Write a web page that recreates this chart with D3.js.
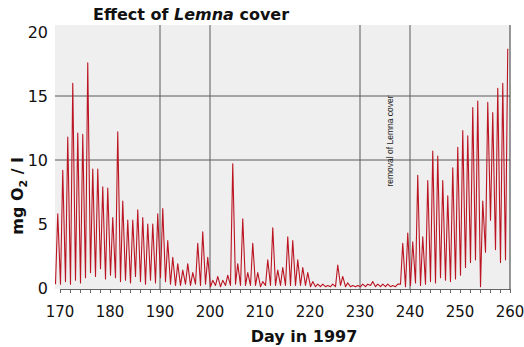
<!DOCTYPE html>
<html>
<head>
<meta charset="utf-8">
<script src="https://cdn.jsdelivr.net/npm/d3@7"></script>
<style>
  body { margin: 0; background: #fff; }
  svg text { font-family: "DejaVu Sans", Verdana, sans-serif; }
</style>
</head>
<body>
<svg id="chart" width="524" height="347"></svg>
<script>
// daily values (mg O2 / l)
let days = d3.range(169, 260);
let dayMax = [5.8, 9.2, 11.8, 16.0, 12.1, 12.0, 17.6, 9.3, 9.3, 7.9,
              7.8, 5.5, 12.2, 6.8, 5.3, 5.3, 6.1, 5.5, 5.0, 5.0,
              5.8, 6.2, 3.7, 2.4, 1.9, 1.4, 1.9, 1.2, 3.5, 4.4,
              2.4, 0.6, 0.9, 0.6, 1.0, 9.7, 1.9, 5.4, 1.2, 3.5,
              1.2, 0.5, 2.2, 4.7, 1.4, 1.6, 4.0, 3.7, 2.2, 1.6,
              1.2, 0.5, 0.3, 0.3, 0.2, 0.3, 1.8, 0.9, 0.4, 0.2,
              0.2, 0.3, 0.3, 0.5, 0.3, 0.3, 0.3, 0.2, 0.3, 3.5,
              4.3, 3.6, 8.8, 4.0, 8.4, 10.7, 10.3, 8.4, 7.2, 9.4,
              11.0, 12.3, 11.9, 14.1, 14.6, 6.8, 14.5, 13.7, 15.6, 16.0,
              18.7];
let dayMin = [0.3, 0.3, 0.5, 0.3, 0.6, 0.4, 0.8, 1.2, 0.9, 1.5,
              0.7, 1.0, 0.8, 0.5, 0.6, 0.4, 0.9, 0.5, 0.3, 0.6,
              0.4, 0.8, 0.5, 0.3, 0.2, 0.2, 0.3, 0.2, 0.3, 0.2,
              0.3, 0.1, 0.2, 0.1, 0.2, 0.2, 0.3, 0.2, 0.2, 0.2,
              0.2, 0.1, 0.2, 0.2, 0.2, 0.2, 0.2, 0.2, 0.2, 0.2,
              0.2, 0.1, 0.1, 0.1, 0.1, 0.1, 0.1, 0.2, 0.1, 0.1,
              0.1, 0.1, 0.1, 0.2, 0.1, 0.1, 0.1, 0.1, 0.1, 0.3,
              0.1, 0.2, 0.4, 0.2, 0.3, 0.5, 0.4, 0.8, 0.6, 0.5,
              0.7, 1.0, 1.6, 2.0, 2.2, 0.1, 2.8, 5.3, 3.0, 2.0,
              2.2];
let xTicks = [170, 180, 190, 200, 210, 220, 230, 240, 250, 260];
let yTicks = [0, 5, 10, 15, 20];
let xGrid = [190, 200, 230, 240];
let yGrid = [10, 15];
let removalDay = 236;

let svg = d3.select("#chart");

let x = d3.scaleLinear().domain([170, 260]).range([60, 510]);
let y = d3.scaleLinear().domain([0, 20]).range([288, 32]);

// plot background
svg.append("rect")
    .attr("x", 55).attr("y", 25)
    .attr("width", x(260) - 55).attr("height", 289 - 25)
    .attr("fill", "#efefef");

// grid
svg.selectAll(".vg").data(xGrid).enter().append("line")
    .attr("x1", d => x(d)).attr("x2", d => x(d))
    .attr("y1", 25).attr("y2", 289)
    .attr("stroke", "#5a5a5a").attr("stroke-width", 1);
svg.selectAll(".hg").data(yGrid).enter().append("line")
    .attr("x1", 55).attr("x2", x(260))
    .attr("y1", d => y(d)).attr("y2", d => y(d))
    .attr("stroke", "#5a5a5a").attr("stroke-width", 1);
svg.append("line")
    .attr("x1", x(260)).attr("x2", x(260))
    .attr("y1", 25).attr("y2", 289)
    .attr("stroke", "#333");

// bottom axis: small ticks every 2 days
let xAxis = d3.axisBottom(x)
    .tickValues(d3.range(170, 261, 2))
    .tickSize(4).tickSizeOuter(0).tickFormat("");
let gx = svg.append("g").attr("transform", "translate(0,289)").call(xAxis);
gx.select(".domain").attr("stroke", "#666");
gx.selectAll(".tick line").attr("stroke", "#666");

svg.selectAll(".xl").data(xTicks).enter().append("text")
    .attr("x", d => x(d)).attr("y", 317)
    .attr("text-anchor", "middle")
    .attr("font-size", 15)
    .attr("fill", "#111")
    .text(d => d);

svg.selectAll(".yl").data(yTicks).enter().append("text")
    .attr("x", 48).attr("y", d => y(d) + 6)
    .attr("text-anchor", "end")
    .attr("font-size", 16)
    .attr("fill", "#111")
    .text(d => d);

// oxygen line: trough early in the day, peak in the afternoon
let pts = [];
days.forEach((d, i) => {
    pts.push([d + 0.1, dayMin[i]]);
    pts.push([d + 0.55, dayMax[i]]);
});
svg.append("clipPath").attr("id", "clip")
    .append("rect").attr("x", 55).attr("y", 20).attr("width", x(260) - 55).attr("height", 270);
svg.append("path")
    .datum(pts)
    .attr("clip-path", "url(#clip)")
    .attr("fill", "none")
    .attr("stroke", "#bb1422")
    .attr("stroke-width", 1.1)
    .attr("stroke-linejoin", "round")
    .attr("d", d3.line().x(p => x(p[0])).y(p => y(p[1])));

// annotation
svg.append("text")
    .attr("transform", "translate(" + (x(removalDay) + 3) + ",141) rotate(-90)")
    .attr("text-anchor", "middle")
    .style("font-family", "'Liberation Sans', Arial, sans-serif")
    .attr("font-size", 8.5)
    .attr("fill", "#222")
    .text("removal of Lemna cover");

// titles
let title = svg.append("text")
    .attr("x", 93).attr("y", 20)
    .attr("font-size", 16).attr("font-weight", "bold")
    .attr("fill", "#111");
title.append("tspan").text("Effect of ");
title.append("tspan").attr("font-style", "italic").text("Lemna");
title.append("tspan").text(" cover");

svg.append("text")
    .attr("x", 304).attr("y", 342)
    .attr("text-anchor", "middle")
    .attr("font-size", 16).attr("font-weight", "bold")
    .attr("fill", "#111")
    .text("Day in 1997");

let yt = svg.append("text")
    .attr("transform", "translate(23,196) rotate(-90)")
    .attr("text-anchor", "middle")
    .attr("font-size", 16).attr("font-weight", "bold")
    .attr("fill", "#111");
yt.append("tspan").text("mg O");
yt.append("tspan").attr("font-size", 11).attr("dy", 4).text("2");
yt.append("tspan").attr("dy", -4).text(" / l");
</script>
</body>
</html>
